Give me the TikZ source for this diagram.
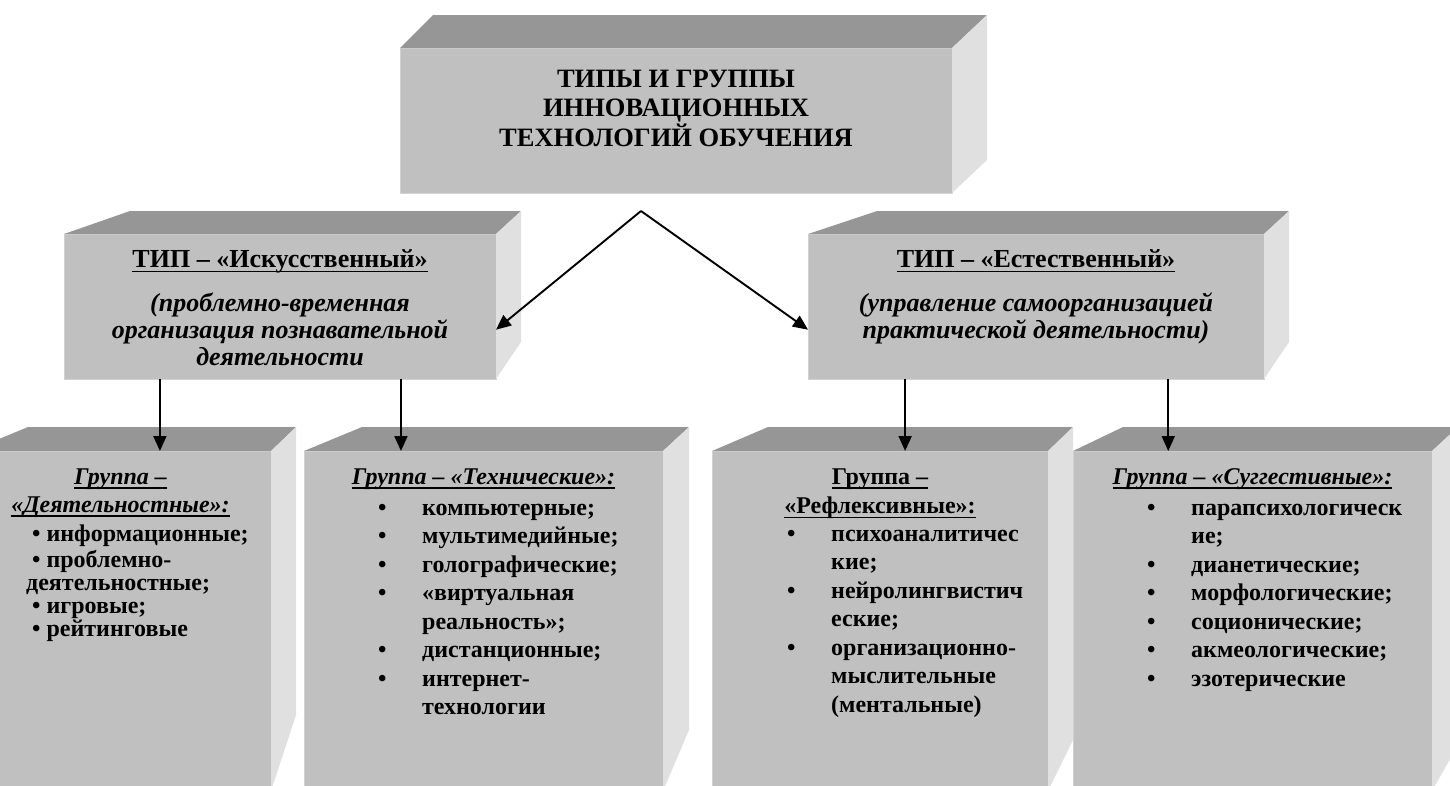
\documentclass[tikz,border=0pt]{standalone}
\usepackage{fontspec}
\setmainfont{Liberation Serif}
\usetikzlibrary{positioning,calc,arrows.meta}

\definecolor{frontgray}{HTML}{C0C0C0}
\definecolor{topgray}{HTML}{969696}
\definecolor{sidegray}{HTML}{E0E0E0}
\definecolor{edgegray}{HTML}{D2D2D2}

% top and right faces of a box: node, back-left x, back-right x, back top y, back-right bottom y
\newcommand{\boxsides}[5]{%
  \fill[topgray] (#1.north west) -- (#2,#4) -- (#3,#4) -- (#1.north east) -- cycle;
  \fill[sidegray] (#1.north east) -- (#3,#4) -- (#3,#5) -- (#1.south east) -- cycle;
}
\newcommand{\bul}{\makebox[44pt][l]{\textbullet}}
\newlength{\ulwd}
\newcommand{\uln}[1]{\settowidth{\ulwd}{#1}\rlap{\rule[-4.5pt]{\ulwd}{1.6pt}}#1}

\tikzset{
  boxface/.style={fill=frontgray, draw=edgegray, line width=0.8pt, inner sep=0pt, outer sep=0pt, anchor=north west},
  headtxt/.style={font=\bfseries\fontsize{26.5}{29.5}\selectfont, align=center, inner sep=0pt},
  typetxt/.style={font=\bfseries\fontsize{26}{27}\selectfont, align=center, inner sep=0pt},
  grphead/.style={font=\bfseries\fontsize{24}{28}\selectfont, align=center, inner sep=0pt},
  grplist/.style={font=\bfseries\fontsize{24}{28.5}\selectfont, align=left, inner sep=0pt},
  link/.style={line width=1.9pt, -{Triangle[length=15pt,width=13pt]}},
}

\begin{document}
\begin{tikzpicture}[x=1pt, y=-1pt]
\useasboundingbox (0,0) rectangle (1450,785);
\clip (0,0) rectangle (1450,785);

% main box
\node[boxface, minimum width=552pt, minimum height=145pt] (top) at (400,48) {};
\boxsides{top}{433}{987}{15}{160}
\node[headtxt, below=18.3pt of top.north] (toptxt)
  {\strut ТИПЫ И ГРУППЫ\\ИННОВАЦИОННЫХ\\ТЕХНОЛОГИЙ ОБУЧЕНИЯ};

% type boxes
\node[boxface, minimum width=432pt, minimum height=145pt] (typL) at (64,234) {};
\boxsides{typL}{130}{521}{211}{342}
\node[typetxt, below=14.6pt of typL.north] (typLtxt)
  {\strut\uln{ТИП – «Искусственный»}\\[16.5pt]
   \textit{(проблемно-временная}\\\textit{организация познавательной}\\\textit{деятельности}};

\node[boxface, minimum width=456pt, minimum height=145pt] (typR) at (808,234) {};
\boxsides{typR}{877}{1289}{211}{342}
\node[typetxt, below=14.6pt of typR.north] (typRtxt)
  {\strut\uln{ТИП – «Естественный»}\\[16.5pt]
   \textit{(управление самоорганизацией}\\\textit{практической деятельности)}};

% group boxes
\node[boxface, minimum width=301pt, minimum height=340pt] (grp1) at (-30,451) {};
\boxsides{grp1}{28}{296}{427}{715}
\node[grphead, below=13.4pt of grp1.north] (grp1head)
  {\strut\textit{\uln{Группа –}}\\\textit{\uln{«Деятельностные»:}}};
\node[grplist, font=\bfseries\fontsize{24}{23.3}\selectfont, below right=74pt and 56pt of grp1.north west] (grp1list)
  {\strut\hspace*{6pt}\textbullet\ информационные;\\
   \hspace*{6pt}\textbullet\ проблемно-\\
   деятельностные;\\
   \hspace*{6pt}\textbullet\ игровые;\\
   \hspace*{6pt}\textbullet\ рейтинговые};

\node[boxface, minimum width=359pt, minimum height=340pt] (grp2) at (304,451) {};
\boxsides{grp2}{362}{689}{427}{730}
\node[grphead, below=13.4pt of grp2.north] (grp2head)
  {\strut\textit{\uln{Группа – «Технические»:}}};
\node[grplist, below right=44pt and 74pt of grp2.north west] (grp2list)
  {\strut\bul компьютерные;\\
   \bul мультимедийные;\\
   \bul голографические;\\
   \bul «виртуальная\\
   \hspace*{44pt}реальность»;\\
   \bul дистанционные;\\
   \bul интернет-\\
   \hspace*{44pt}технологии};

\node[boxface, minimum width=336pt, minimum height=340pt] (grp3) at (712,451) {};
\boxsides{grp3}{768}{1073}{427}{740}
\node[grphead, below=13.4pt of grp3.north] (grp3head)
  {\strut\uln{Группа –}\\[1.5pt]\uln{«Рефлексивные»:}};
\node[grplist, below right=70pt and 75pt of grp3.north west] (grp3list)
  {\strut\bul психоаналитичес\\
   \hspace*{44pt}кие;\\
   \bul нейролингвистич\\
   \hspace*{44pt}еские;\\
   \bul организационно-\\
   \hspace*{44pt}мыслительные\\
   \hspace*{44pt}(ментальные)};

\node[boxface, minimum width=359pt, minimum height=340pt] (grp4) at (1073,451) {};
\boxsides{grp4}{1123}{1458}{427}{745}
\node[grphead, below=13.4pt of grp4.north] (grp4head)
  {\strut\textit{\uln{Группа – «Суггестивные»:}}};
\node[grplist, below right=44pt and 74pt of grp4.north west] (grp4list)
  {\strut\bul парапсихологическ\\
   \hspace*{44pt}ие;\\
   \bul дианетические;\\
   \bul морфологические;\\
   \bul соционические;\\
   \bul акмеологические;\\
   \bul эзотерические};

% connectors
\coordinate (apex) at (641,211);
\draw[link] (apex) -- ($(typL.north east)!0.66!(typL.south east)$);
\draw[link] (apex) -- ($(typR.north west)!0.66!(typR.south west)$);

\coordinate (dL1) at ($(typL.south west)!0.222!(typL.south east)$);
\coordinate (dL2) at ($(typL.south west)!0.78!(typL.south east)$);
\coordinate (dR1) at ($(typR.south west)!0.213!(typR.south east)$);
\coordinate (dR2) at ($(typR.south west)!0.79!(typR.south east)$);
\draw[link] (dL1) -- (dL1 |- grp1.north);
\draw[link] (dL2) -- (dL2 |- grp2.north);
\draw[link] (dR1) -- (dR1 |- grp3.north);
\draw[link] (dR2) -- (dR2 |- grp4.north);
\end{tikzpicture}
\end{document}
